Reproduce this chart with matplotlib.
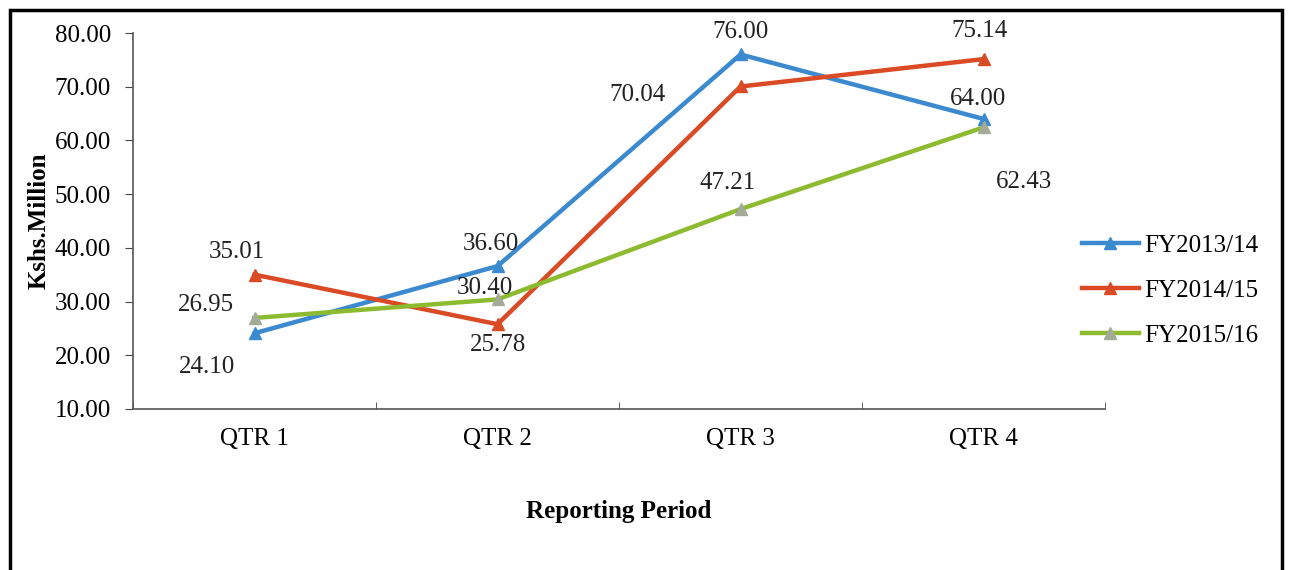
import matplotlib.pyplot as plt
from matplotlib.patches import Rectangle

# data
quarters = ['QTR 1', 'QTR 2', 'QTR 3', 'QTR 4']
fy_2013_14 = [24.10, 36.60, 76.00, 64.00]
fy_2014_15 = [35.01, 25.78, 70.04, 75.14]
fy_2015_16 = [26.95, 30.40, 47.21, 62.43]
series_names = ['FY2013/14', 'FY2014/15', 'FY2015/16']
y_ticks = [10, 20, 30, 40, 50, 60, 70, 80]

# styles
colors = ['#3b8ad0', '#d94a25', '#8dbb30']
marker_colors = ['#3b8ad0', '#d94a25', '#a3ab98']
# label offsets in points (dx, dy) per series / point
label_offsets = [
    [(-34, -24), (-5, 16), (0, 16), (-4, 14)],
    [(-13, 16), (0, -15), (-74, -6), (-3, 20)],
    [(-35, 9), (-9, 8), (-9, 19), (29, -39)],
]

plt.rcParams['font.family'] = ['Liberation Serif', 'DejaVu Serif']

fig = plt.figure(figsize=(12.89, 5.70), dpi=100)
ax = fig.add_axes([0.1032, 0.2825, 0.7541, 0.6596])

x = list(range(len(quarters)))
all_series = [fy_2013_14, fy_2014_15, fy_2015_16]
for i, vals in enumerate(all_series):
    ax.plot(x, vals, color=colors[i], linewidth=3.2, marker='^', markersize=9,
            markerfacecolor=marker_colors[i], markeredgecolor=marker_colors[i],
            label=series_names[i], zorder=3)
    for j, v in enumerate(vals):
        ax.annotate(f'{v:.2f}', (x[j], v), xytext=label_offsets[i][j],
                    textcoords='offset points', ha='center', va='center',
                    fontsize=18, color='#222222')

ax.set_xlim(-0.5, len(quarters) - 0.5)
ax.set_ylim(10, 80)
ax.set_yticks(y_ticks)
ax.set_yticklabels([f'{t:.2f}' for t in y_ticks], fontsize=18)
ax.set_xticks(x)
ax.set_xticklabels(quarters, fontsize=18)
ax.set_xticks([k - 0.5 for k in range(len(quarters) + 1)], minor=True)
ax.tick_params(axis='x', which='major', length=0, pad=14)
ax.tick_params(axis='x', which='minor', length=5, direction='in', color='#444444')
ax.tick_params(axis='y', length=6, color='#444444', pad=10)

for side in ['top', 'right']:
    ax.spines[side].set_visible(False)
for side in ['left', 'bottom']:
    ax.spines[side].set_color('#555555')
    ax.spines[side].set_linewidth(1.2)

ax.set_xlabel('Reporting Period', fontsize=18, fontweight='bold', labelpad=36)
ax.set_ylabel('Kshs.Million', fontsize=18, fontweight='bold', labelpad=3)

ax.legend(loc='center left', bbox_to_anchor=(1069 / 1289, 0.49),
          bbox_transform=fig.transFigure, frameon=False, borderpad=0,
          fontsize=18, handlelength=2.3, handletextpad=0.2, labelspacing=0.9)

# outer frame
fig.patches.append(Rectangle((10 / 1289, -0.05), 1272 / 1289, 1.05 - 10 / 570,
                             transform=fig.transFigure, fill=False,
                             edgecolor='black', linewidth=2.5))

fig.savefig('out.png', dpi=100)
